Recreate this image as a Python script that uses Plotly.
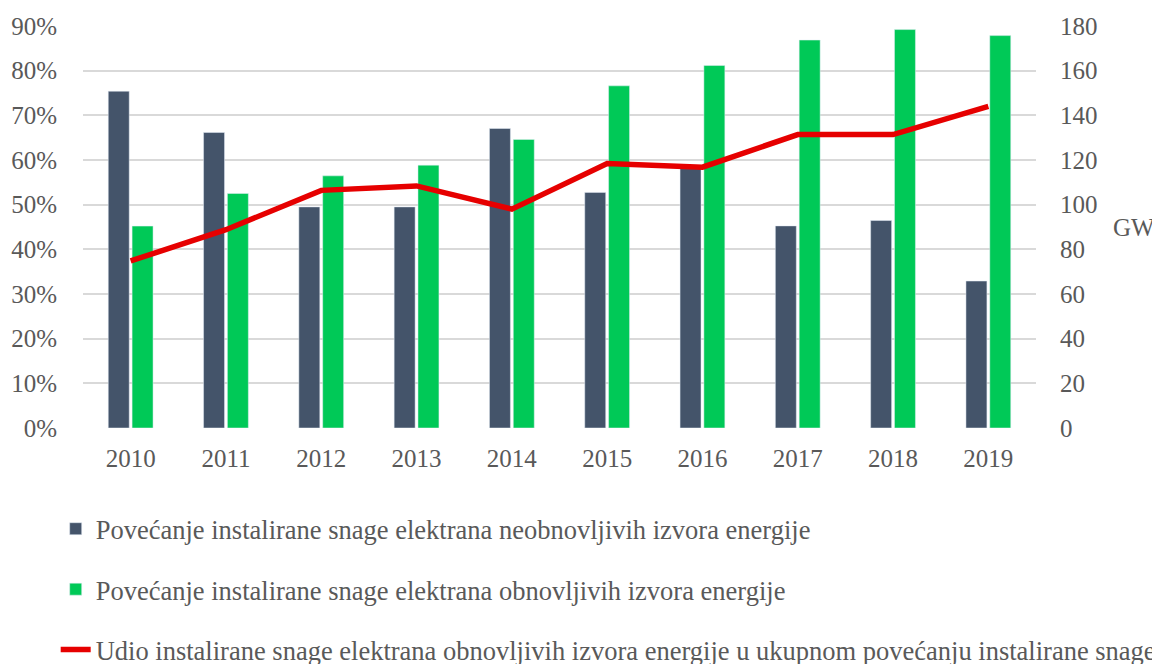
import plotly.graph_objects as go

years = ["2010", "2011", "2012", "2013", "2014", "2015", "2016", "2017", "2018", "2019"]
non_renewable_gw = [150.8, 132.3, 99.0, 99.0, 134.1, 105.5, 117.0, 90.5, 92.9, 65.8]
renewable_gw = [90.4, 105.0, 112.9, 117.7, 129.2, 153.2, 162.3, 173.7, 178.4, 175.7]
renewable_share = [0.374, 0.444, 0.532, 0.542, 0.490, 0.592, 0.584, 0.657, 0.657, 0.720]

name_dark = "Povećanje instalirane snage elektrana neobnovljivih izvora energije"
name_green = "Povećanje instalirane snage elektrana obnovljivih izvora energije"
name_line = "Udio instalirane snage elektrana obnovljivih izvora energije u ukupnom povećanju instalirane snage"

FONT = "Liberation Serif, Times New Roman, serif"
GREY = "#595959"

fig = go.Figure()
fig.add_trace(go.Bar(x=years, y=non_renewable_gw, name=name_dark, marker_color="#44546A",
                     yaxis="y", legendgroup="a"))
fig.add_trace(go.Bar(x=years, y=renewable_gw, name=name_green, marker_color="#00C957",
                     yaxis="y", legendgroup="b"))
fig.add_trace(go.Scatter(x=years, y=renewable_share, name=name_line, mode="lines",
                         line=dict(color="#E60000", width=5.5), yaxis="y2", legendgroup="c"))

fig.update_layout(
    width=1152, height=656,
    margin=dict(l=75, r=124, t=18, b=236, autoexpand=False),
    paper_bgcolor="white", plot_bgcolor="white",
    font=dict(family=FONT, color=GREY, size=25),
    barmode="group", bargap=0.5, bargroupgap=0.12,
    xaxis=dict(type="category", showgrid=False, showline=False, zeroline=False,
               ticks="", tickfont=dict(size=25, color=GREY), ticklabelstandoff=13),
    yaxis=dict(side="right", range=[0, 180], dtick=20, showgrid=True, gridcolor="#D9D9D9",
               gridwidth=1.5, zeroline=False, showline=False, ticks="",
               tickfont=dict(size=25, color=GREY), ticklabelstandoff=23),
    yaxis2=dict(side="left", overlaying="y", range=[0, 0.9], dtick=0.1, tickformat=".0%",
                showgrid=False, zeroline=False, showline=False, ticks="",
                tickfont=dict(size=25, color=GREY), ticklabelstandoff=25),
    legend=dict(orientation="v", xref="container", yref="container", x=0.0414, y=0.2424,
                xanchor="left", yanchor="top", font=dict(size=26.5, color=GREY),
                tracegroupgap=23, traceorder="grouped", bgcolor="rgba(0,0,0,0)"),
    showlegend=True,
    annotations=[dict(text="GW", xref="paper", yref="paper", x=1.0, y=0.5, xanchor="left",
                      yanchor="middle", xshift=75, showarrow=False,
                      font=dict(size=25, color=GREY, family=FONT))],
)

fig.write_html("out.html")
